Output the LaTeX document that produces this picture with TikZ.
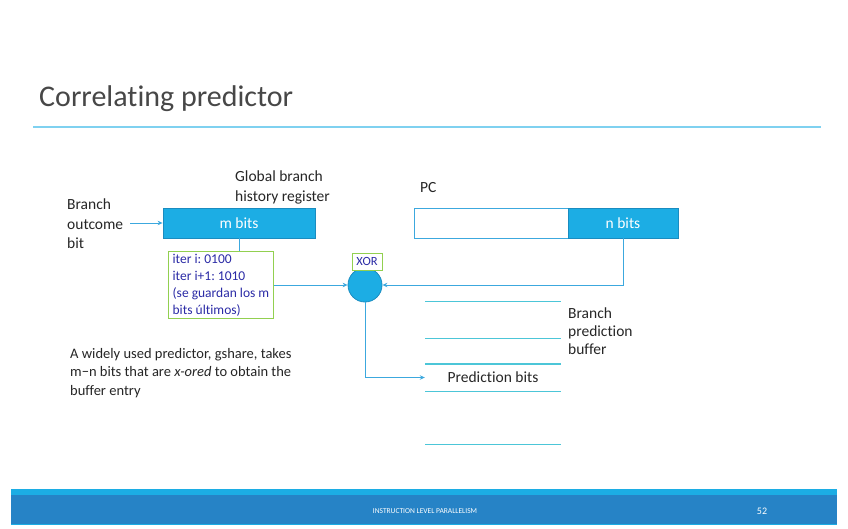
\documentclass[tikz,border=0pt]{standalone}
\usepackage{fontspec}
\setmainfont{Carlito}[Ligatures=NoCommon]
\usetikzlibrary{arrows.meta,calc}
\definecolor{accent}{HTML}{1CADE4}
\definecolor{accentdk}{HTML}{1A8CC0}
\definecolor{footdk}{HTML}{2683C6}
\definecolor{titleline}{HTML}{7FD1F0}
\definecolor{bufline}{HTML}{4CC6D8}
\definecolor{conn}{HTML}{3CA8DE}
\definecolor{grn}{HTML}{92D050}
\definecolor{navy}{HTML}{2B2BA6}
\definecolor{txt}{HTML}{262626}
\tikzset{
  bluebox/.style={draw=accentdk, fill=accent, text=white, minimum height=30pt, inner sep=0pt, font=\fontsize{15.5}{17}\selectfont, line width=0.8pt},
  whitebox/.style={draw=conn, fill=white, minimum height=30pt, inner sep=0pt, line width=0.8pt},
  plain/.style={text=txt, align=left, inner sep=0pt, font=\fontsize{15.5}{19.5}\selectfont},
  notebox/.style={draw=grn, line width=0.9pt, text=navy, align=left, inner sep=2pt, font=\fontsize{13.5}{17}\selectfont\frenchspacing},
  conn/.style={draw=conn, line width=0.8pt},
  arr/.style={conn, -{Stealth[length=5pt,width=4.5pt]}},
  bufl/.style={draw=bufline, line width=0.9pt}
}
\begin{document}
\begin{tikzpicture}[x=1pt,y=-1pt]
\useasboundingbox (0,0) rectangle (848,529);
\fill[white] (0,0) rectangle (848,529);

% title
\node[anchor=base west, inner sep=0pt, text=txt!85, font=\fontsize{30}{33}\selectfont] (title) at (39,107) {Correlating predictor};
\draw[draw=titleline, line width=1.6pt] (33,127) -- (821,127);

% footer
\fill[accent] (11,489) rectangle (837,525);
\fill[footdk] (11,494.5) rectangle (837,524);
\node[text=white, inner sep=0pt, font=\fontsize{7.5}{9}\selectfont] (foot) at (425,511) {INSTRUCTION LEVEL PARALLELISM};
\node[text=white, inner sep=0pt, font=\fontsize{10}{12}\selectfont] (page) at (762,511) {52};

% branch outcome
\node[plain, anchor=west] (outcome) at (67,224) {Branch\\outcome\\bit};
\coordinate (outstart) at (130,223);

% GHR
\node[bluebox, minimum width=152pt] (mbits) at (239,223) {m bits};
\node[plain, anchor=south west] (ghrlab) at (235,204) {Global branch\\history register};
\draw[arr] (outstart) -- (mbits.west);

% note box
\node[notebox, anchor=north west, minimum width=105pt, minimum height=67pt] (note) at (168,251)
  {iter i: 0100\\iter i+1: 1010\\(se guardan los m\\bits últimos)};
\draw[conn] (mbits.south) -- (mbits.south |- note.north);

% XOR
\node[circle, draw=accentdk, fill=accent, minimum size=34pt, inner sep=0pt, line width=0.8pt] (xor) at (365,285) {};
\node[draw=grn, line width=0.9pt, fill=white, text=navy, minimum width=30pt, minimum height=17pt, inner sep=0pt, font=\fontsize{12.5}{14}\selectfont] (xorlab) at (367,261.5) {XOR};
\draw[arr] (note.east |- xor.west) -- (xor.west);

% PC
\node[plain, anchor=base west] (pclab) at (420,193) {PC};
\node[whitebox, minimum width=154pt] (pcw) at (491,223) {};
\node[bluebox, minimum width=110pt] (nbits) at (623,223) {n bits};
\draw[arr] (nbits.south) |- (xor.east);

% buffer
\draw[bufl] (425,301) -- (561,301);
\draw[bufl] (425,338) -- (561,338);
\draw[bufl, line width=1.3pt] (425,364) -- (561,364);
\draw[bufl] (425,391) -- (561,391);
\draw[bufl] (425,444) -- (561,444);
\node[plain, minimum width=136pt, minimum height=27pt, align=center] (pred) at (493,377.5) {Prediction bits};
\draw[arr] (xor.south) |- (pred.west);
\node[plain, anchor=north west, font=\fontsize{15.5}{18}\selectfont] (buflab) at (568,308) {Branch\\prediction\\buffer};

% paragraph
\node[plain, anchor=north west, font=\fontsize{14.5}{18.5}\selectfont] (para) at (70,348)
  {A widely used predictor, gshare, takes\\m−n bits that are \textit{x-ored} to obtain the\\buffer entry};
\end{tikzpicture}
\end{document}
